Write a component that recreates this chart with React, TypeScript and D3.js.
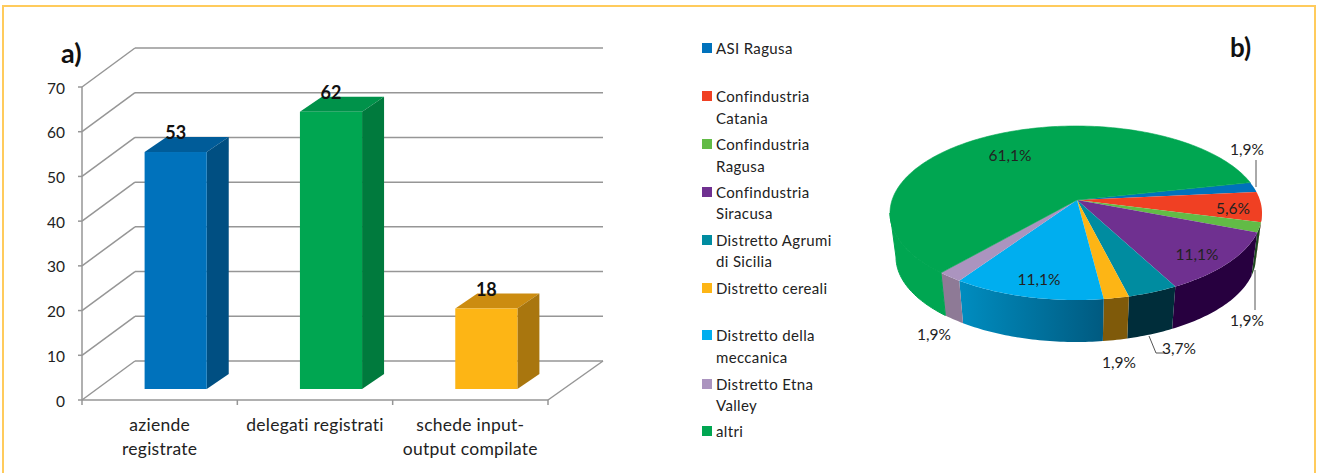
import React from "react";
import * as d3 from "d3";

// ---- data ----
const barCategories = [["aziende", "registrate"], ["delegati registrati"], ["schede input-", "output compilate"]];
const barValues = [53, 62, 18];
const barFront = ["#0072BC", "#00A651", "#FDB515"];
const barSide = ["#004F82", "#007A3D", "#A9760E"];
const barTop = ["#005C99", "#00924A", "#CC8C10"];
const yTicks = [0, 10, 20, 30, 40, 50, 60, 70];

const pieNames = [["ASI Ragusa"], ["Confindustria", "Catania"], ["Confindustria", "Ragusa"], ["Confindustria", "Siracusa"], ["Distretto Agrumi", "di Sicilia"], ["Distretto cereali"], ["Distretto della", "meccanica"], ["Distretto Etna", "Valley"], ["altri"]];
const pieValues = [1, 3, 1, 6, 2, 1, 6, 1, 33];
const pieColors = ["#0072BC", "#F04023", "#62BB46", "#6F3090", "#008CA0", "#FDB515", "#00AEEF", "#AB94BF", "#00A651"];
const pieWalls = ["#004F82", "#B02A10", "#1E4A20", "#27003F", "#002D3A", "#7F5A0A", "url(#cyanWall)", "#8E7A96", "#00A651"];
const pieLabels = ["1,9%", "5,6%", "1,9%", "11,1%", "3,7%", "1,9%", "11,1%", "1,9%", "61,1%"];

// ---- layout ----
const FONT = "Lato, 'Open Sans', sans-serif";
const TEXT = "#222";
const GRID = "#969696";
const DEPTH = { x: 53, y: -39 };
const BAR_DEPTH = { x: 22, y: -15 };
const BAR_LIFT = 11;
const y = d3.scaleLinear().domain([0, 70]).range([400, 87]);
const xAxis = d3.scaleBand().domain(["0", "1", "2"]).range([82, 548]);
const xBar = d3.scaleBand().domain(["0", "1", "2"]).range([98, 564]).paddingInner(0.6).paddingOuter(0.3);

const top = { cx: 1076, cy: 213, rx: 186, ry: 87 };
const bottom = { cx: 1076, cy: 257, rx: 180, ry: 85 };
const apex = { x: 1077, y: 200 };
const START = (-10.5 * Math.PI) / 180;
const K = 0.09;
const labelAt: [number, number][] = [[1247, 149], [1233, 208], [1247, 320], [1197, 254], [1179, 348], [1119, 362], [1039, 279], [934, 334], [1010, 155]];
const leaders = [
  [[1256, 160], [1256, 187]],
  [[1255, 270], [1255, 310]],
  [[1149, 336], [1156, 353], [1165, 353]],
];
const legendRows = [48, 96, 144, 192, 240, 288, 335, 384, 431];
const legendSecond = [0, 22, 22, 21, 21, 0, 22, 21, 0];

// perspective: data angle -> parameter on the rim ellipse (disc automorphism moving the centre to the apex)
function rimAngle(theta: number) {
  const zr = Math.cos(theta), zi = Math.sin(theta);
  const nr = zr, ni = zi - K;
  const dr = 1 - K * zi, di = K * zr;
  const d = dr * dr + di * di;
  return Math.atan2((ni * dr - nr * di) / d, (nr * dr + ni * di) / d);
}
const pt = (e: typeof top, a: number): [number, number] => [e.cx + e.rx * Math.cos(a), e.cy + e.ry * Math.sin(a)];
const line = d3.line();

const arcs = d3.pie<number>().sort(null).value((d) => d)(pieValues);

function unwrap(a: number, ref: number) {
  let v = a;
  while (v < ref) v += 2 * Math.PI;
  return v;
}
function sample(a0: number, a1: number) {
  const n = Math.max(2, Math.ceil(Math.abs(a1 - a0) / 0.02));
  return d3.range(n + 1).map((i) => a0 + ((a1 - a0) * i) / n);
}
const slices = arcs.map((a) => {
  const p0 = rimAngle(START + a.startAngle);
  const p1 = unwrap(rimAngle(START + a.endAngle), p0);
  return { p0, p1 };
});

function wallPath(p0: number, p1: number) {
  const lo = Math.max(p0, 0);
  const hi = Math.min(p1, Math.PI);
  if (hi <= lo) return null;
  const s = sample(lo, hi);
  const pts = [...s.map((t) => pt(top, t)), ...s.slice().reverse().map((t) => pt(bottom, t))];
  return line(pts as [number, number][]) + "Z";
}
function topPath(p0: number, p1: number) {
  const pts = [[apex.x, apex.y], ...sample(p0, p1).map((t) => pt(top, t))];
  return line(pts as [number, number][]) + "Z";
}

export default function App() {
  return (
    <svg width={1318} height={473} style={{ position: "absolute", left: 0, top: 0, display: "block", background: "#fff" }} fontFamily={FONT}>
      <defs>
        <linearGradient id="cyanWall" x1="0" x2="1" y1="0" y2="0">
          <stop offset="0" stopColor="#008DC0" />
          <stop offset="1" stopColor="#005A80" />
        </linearGradient>
      </defs>
      {/* frame */}
      <path d="M3,473 V6 H1315 V473" fill="none" stroke="#FFCB5C" strokeWidth={2} />

      {/* panel a */}
      <g stroke={GRID} strokeWidth={1.5} fill="none">
        {yTicks.map((t) => (
          <g key={t}>
            <line x1={xAxis.range()[0]} y1={y(t)} x2={xAxis.range()[0] + DEPTH.x} y2={y(t) + DEPTH.y} />
            <line x1={xAxis.range()[0] + DEPTH.x} y1={y(t) + DEPTH.y} x2={xAxis.range()[1] + DEPTH.x + 2} y2={y(t) + DEPTH.y} />
            <line x1={xAxis.range()[0] - 4} y1={y(t)} x2={xAxis.range()[0]} y2={y(t)} />
          </g>
        ))}
        <line x1={82} y1={y(0)} x2={82} y2={y(70)} />
        <line x1={82} y1={y(0)} x2={548} y2={y(0)} />
        <line x1={548} y1={y(0)} x2={548 + DEPTH.x + 2} y2={y(0) + DEPTH.y} />
        {[...xAxis.domain().map((d) => xAxis(d)!), 548].map((x) => (
          <line key={x} x1={x} y1={y(0)} x2={x} y2={y(0) + 5} />
        ))}
      </g>
      {yTicks.map((t) => (
        <text key={t} x={65} y={y(t) + 6.5} textAnchor="end" fontSize={15.5} fill={TEXT}>{t}</text>
      ))}
      {barValues.map((v, i) => {
        const x0 = xBar(String(i))!;
        const w = xBar.bandwidth();
        const base = y(0) - BAR_LIFT;
        const h = y(0) - y(v);
        const t = base - h;
        const { x: dx, y: dy } = BAR_DEPTH;
        return (
          <g key={i}>
            <path d={line([[x0, t], [x0 + dx, t + dy], [x0 + w + dx, t + dy], [x0 + w, t]])! + "Z"} fill={barTop[i]} />
            <path d={line([[x0 + w, t], [x0 + w + dx, t + dy], [x0 + w + dx, base + dy], [x0 + w, base]])! + "Z"} fill={barSide[i]} />
            <rect x={x0} y={t} width={w} height={h} fill={barFront[i]} />
            <text x={x0 + w / 2} y={t - 13} textAnchor="middle" fontSize={18} fontWeight={700} fill="#111">{v}</text>
          </g>
        );
      })}
      {barCategories.map((lines, i) => {
        const cx = xAxis(String(i))! + xAxis.bandwidth() / 2;
        return lines.map((l, j) => (
          <text key={l} x={cx} y={431 + j * 24} textAnchor="middle" fontSize={17.5} letterSpacing={0.25} fill={TEXT}>{l}</text>
        ));
      })}
      <text x={61} y={63} fontSize={27} fontWeight={700} fill="#111">a)</text>

      {/* legend */}
      {pieNames.map((lines, i) => (
        <g key={i}>
          <rect x={702} y={legendRows[i] - 5} width={10} height={10} fill={pieColors[i]} />
          {lines.map((l, j) => (
            <text key={l} x={716} y={legendRows[i] + 5.5 + j * legendSecond[i]} fontSize={15} letterSpacing={0.35} fill={TEXT}>{l}</text>
          ))}
        </g>
      ))}

      {/* panel b */}
      {slices.map((s, i) => {
        const d = wallPath(s.p0, s.p1);
        return d ? <path key={i} d={d} fill={pieWalls[i]} stroke={i === 8 ? pieWalls[i] : "none"} strokeWidth={1} /> : null;
      })}
      {slices.map((s, i) => (
        <path key={i} d={topPath(s.p0, s.p1)} fill={pieColors[i]} stroke={i === 8 ? pieColors[i] : "none"} strokeWidth={0.6} />
      ))}
      {leaders.map((l, i) => (
        <path key={i} d={line(l as [number, number][])!} fill="none" stroke="#555" strokeWidth={1} />
      ))}
      {pieLabels.map((l, i) => (
        <text key={i} x={labelAt[i][0]} y={labelAt[i][1] + 5.5} textAnchor="middle" fontSize={15.5} fill={TEXT}>{l}</text>
      ))}
      <text x={1230} y={57} fontSize={26} fontWeight={700} fill="#111">b)</text>
    </svg>
  );
}
